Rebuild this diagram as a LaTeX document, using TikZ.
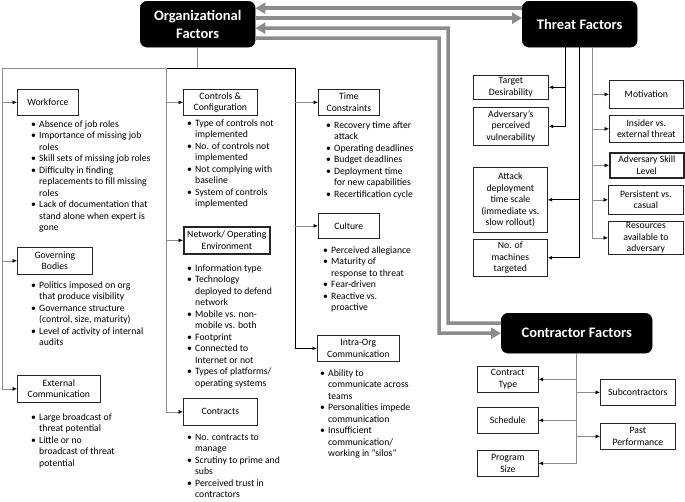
\documentclass[tikz,border=0pt]{standalone}
\usepackage{fontspec}
\setmainfont{Carlito}
\usetikzlibrary{arrows.meta}
\newcommand{\itb}{\makebox[8pt][l]{\textbullet}}
\newcommand{\itc}{\hspace*{8pt}}

\begin{document}
\begin{tikzpicture}[x=1pt, y=-1pt,
  itembox/.style={draw=black!85, line width=0.7pt, align=center, inner sep=0pt, anchor=north west, font=\fontsize{9.7}{11.5}\selectfont},
  thickbox/.style={itembox, line width=1.6pt},
  factor/.style={fill=black, draw=black, rounded corners=7pt, text=white, align=center, inner sep=0pt, anchor=north west, font=\fontsize{14.5}{18}\selectfont\bfseries},
  blist/.style={anchor=north west, inner sep=0pt, align=left, font=\fontsize{9.7}{11.5}\selectfont},
  gline/.style={draw=black!45, line width=0.7pt},
  bline/.style={draw=black, line width=0.9pt},
  pointer/.style={-{Latex[length=4.5pt,width=4pt,color=black]}},
  garrow/.style={draw=black!45, line width=3.5pt, -{Triangle[length=10pt,width=11pt]}}]
\useasboundingbox (0,0) rectangle (685,501);

\node[factor, minimum width=115pt, minimum height=46pt] (org) at (140,1) {Organizational\\Factors};
\node[factor, minimum width=115pt, minimum height=46pt] (thr) at (522,1) {Threat Factors};
\node[factor, minimum width=151pt, minimum height=40pt] (ctr) at (501,313) {Contractor Factors};

\coordinate (ga) at (448,28);
\coordinate (gb) at (439,38);
\draw[garrow] ([yshift=16pt]thr.west) -- ([yshift=16pt]org.east);
\draw[garrow] ([yshift=6pt]org.east) -- ([yshift=6pt]thr.west);
\draw[garrow] ([yshift=10pt]ctr.west) -| (ga) -- ([yshift=-4pt]org.east);
\draw[garrow] ([yshift=-14pt]org.east) -- (gb) |- (ctr.west);

\node[itembox, minimum width=61pt, minimum height=26pt] (wf) at (17,89) {Workforce};
\node[itembox, minimum width=75pt, minimum height=27pt] (gb) at (17,247) {Governing\\Bodies};
\node[itembox, minimum width=83pt, minimum height=27pt] (ext) at (17,375) {External\\Communication};
\node[itembox, minimum width=74pt, minimum height=26pt] (cc) at (183,89) {Controls \&\\Configuration};
\node[thickbox, minimum width=86pt, minimum height=27pt] (net) at (183,226) {Network/ Operating\\Environment};
\node[itembox, minimum width=74pt, minimum height=27pt] (con) at (183,398) {Contracts};
\node[itembox, minimum width=61pt, minimum height=26pt] (tc) at (318,89) {Time\\Constraints};
\node[itembox, minimum width=61pt, minimum height=25pt] (cul) at (318,213) {Culture};
\node[itembox, minimum width=82pt, minimum height=26pt] (io) at (317,335) {Intra-Org\\Communication};

\node[blist] (wf-list) at (31,120.5) {\itb Absence of job roles\\\itb Importance of missing job\\\itc roles\\\itb Skill sets of missing job roles\\\itb Difficulty in finding\\\itc replacements to fill missing\\\itc roles\\\itb Lack of documentation that\\\itc stand alone when expert is\\\itc gone};
\node[blist] (gb-list) at (31,281.5) {\itb Politics imposed on org\\\itc that produce visibility\\\itb Governance structure\\\itc (control, size, maturity)\\\itb Level of activity of internal\\\itc audits};
\node[blist] (ext-list) at (31,413.5) {\itb Large broadcast of\\\itc threat potential\\\itb Little or no\\\itc broadcast of threat\\\itc potential};
\node[blist] (cc-list) at (187,119.5) {\itb Type of controls not\\\itc implemented\\\itb No. of controls not\\\itc implemented\\\itb Not complying with\\\itc baseline\\\itb System of controls\\\itc implemented};
\node[blist] (net-list) at (187,264.5) {\itb Information type\\\itb Technology\\\itc deployed to defend\\\itc network\\\itb Mobile vs. non-\\\itc mobile vs. both\\\itb Footprint\\\itb Connected to\\\itc Internet or not\\\itb Types of platforms/\\\itc operating systems};
\node[blist] (con-list) at (187,434) {\itb No. contracts to\\\itc manage\\\itb Scrutiny to prime and\\\itc subs\\\itb Perceived trust in\\\itc contractors};
\node[blist] (tc-list) at (326,121.5) {\itb Recovery time after\\\itc attack\\\itb Operating deadlines\\\itb Budget deadlines\\\itb Deployment time\\\itc for new capabilities\\\itb Recertification cycle};
\node[blist] (cul-list) at (323,246.5) {\itb Perceived allegiance\\\itb Maturity of\\\itc response to threat\\\itb Fear-driven\\\itb Reactive vs.\\\itc proactive};
\node[blist] (io-list) at (320,369.5) {\itb Ability to\\\itc communicate across\\\itc teams\\\itb Personalities impede\\\itc communication\\\itb Insufficient\\\itc communication/\\\itc working in “silos”};

\coordinate (c1) at (2,68);
\coordinate (c2) at (166,68);
\coordinate (c3) at (295,68);
\draw[gline] (org.south) -- (org.south |- c1);
\draw[gline] (c1) -- (c2);
\draw[bline] (c2) -- (c3);
\draw[gline] (c1) -- (c1 |- ext.west);
\draw[gline] (c2) -- (c2 |- con.west);
\draw[bline] (c3) -- (c3 |- io.west);
\draw[gline, pointer] (c1 |- wf.west) -- (wf.west);
\draw[gline, pointer] (c1 |- gb.west) -- (gb.west);
\draw[gline, pointer] (c1 |- ext.west) -- (ext.west);
\draw[gline, pointer] (c2 |- cc.west) -- (cc.west);
\draw[gline, pointer] (c2 |- net.west) -- (net.west);
\draw[gline, pointer] (c2 |- con.west) -- (con.west);
\draw[gline, pointer] (c3 |- tc.west) -- (tc.west);
\draw[gline, pointer] (c3 |- cul.west) -- (cul.west);
\draw[bline, pointer] (c3 |- io.west) -- (io.west);

\node[itembox, minimum width=75pt, minimum height=24pt] (td) at (473,75) {Target\\Desirability};
\node[itembox, minimum width=75pt, minimum height=38pt] (av) at (473,107) {Adversary’s\\perceived\\vulnerability};
\node[itembox, minimum width=74pt, minimum height=65pt] (ad) at (473,167) {Attack\\deployment\\time scale\\(immediate vs.\\slow rollout)};
\node[itembox, minimum width=74pt, minimum height=37pt] (nm) at (473,239) {No. of\\machines\\targeted};
\node[itembox, minimum width=74pt, minimum height=28pt] (mot) at (609,80) {Motivation};
\node[itembox, minimum width=74pt, minimum height=27pt] (ins) at (609,115) {Insider vs.\\external threat};
\node[thickbox, minimum width=74pt, minimum height=25pt] (skl) at (609,152) {Adversary Skill\\Level};
\node[itembox, minimum width=75pt, minimum height=29pt] (per) at (608,185) {Persistent vs.\\casual};
\node[itembox, minimum width=75pt, minimum height=33pt] (res) at (608,221) {Resources\\available to\\adversary};

\coordinate (t1) at (565,47);
\coordinate (t2) at (579,47);
\coordinate (t3) at (592,47);
\draw[bline, pointer] (t1) |- (td.east);
\draw[bline, pointer] (t1) |- (av.east);
\draw[bline, pointer] (t2) |- (ad.east);
\draw[bline, pointer] (t2) |- (nm.east);
\draw[gline, pointer] (t3) |- (mot.west);
\draw[gline, pointer] (t3) |- (ins.west);
\draw[gline, pointer] (t3) |- (skl.west);
\draw[gline, pointer] (t3) |- (per.west);
\draw[gline, pointer] (t3) |- (res.west);

\node[itembox, minimum width=61pt, minimum height=26pt] (ctp) at (477,366) {Contract\\Type};
\node[itembox, minimum width=61pt, minimum height=26pt] (sch) at (477,407) {Schedule};
\node[itembox, minimum width=61pt, minimum height=26pt] (psz) at (477,450) {Program\\Size};
\node[itembox, minimum width=75pt, minimum height=26pt] (sub) at (600,379) {Subcontractors};
\node[itembox, minimum width=75pt, minimum height=26pt] (pp) at (600,423) {Past\\Performance};

\draw[gline, pointer] (ctr.south) |- (ctp.east);
\draw[gline, pointer] (ctr.south) |- (sch.east);
\draw[gline, pointer] (ctr.south) |- (psz.east);
\draw[gline, pointer] (ctr.south) |- (sub.west);
\draw[gline, pointer] (ctr.south) |- (pp.west);
\end{tikzpicture}
\end{document}
